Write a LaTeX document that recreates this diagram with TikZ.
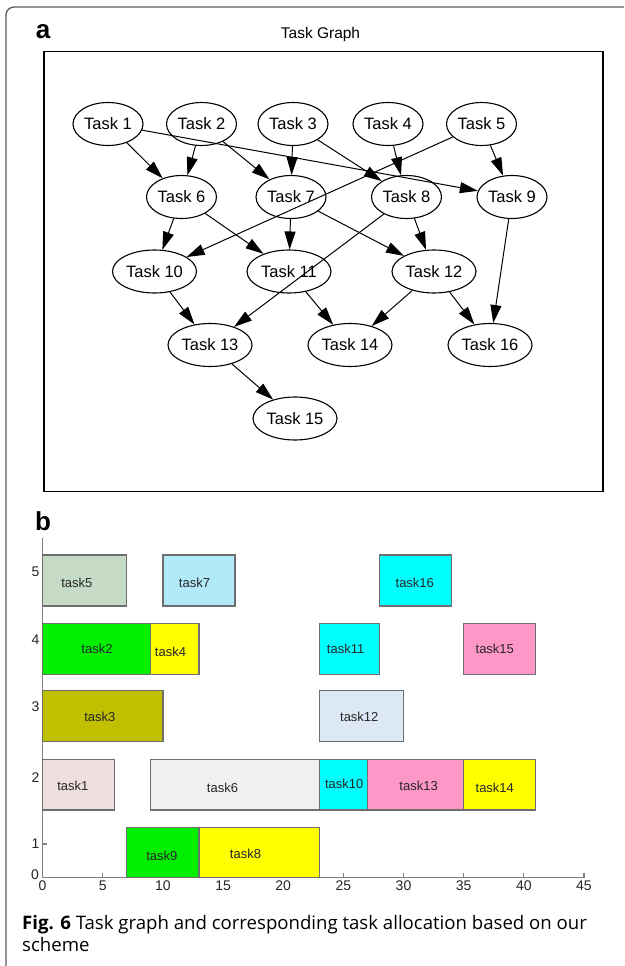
\documentclass[tikz,border=0pt]{standalone}
\usepackage{fontspec}
\setmainfont{Liberation Sans}
\newfontfamily\capfont{Open Sans}
\usetikzlibrary{arrows.meta,shapes.geometric}
\definecolor{c5}{RGB}{198,219,198}
\definecolor{c7}{RGB}{178,234,250}
\definecolor{cgreen}{RGB}{0,238,0}
\definecolor{cyel}{RGB}{255,255,0}
\definecolor{ccyan}{RGB}{0,255,255}
\definecolor{cpink}{RGB}{255,150,200}
\definecolor{colive}{RGB}{192,192,0}
\definecolor{c12}{RGB}{221,232,247}
\definecolor{c1}{RGB}{238,222,222}
\definecolor{c6}{RGB}{240,240,240}
\definecolor{barline}{RGB}{110,110,110}
\definecolor{axisc}{RGB}{128,128,128}
\definecolor{framec}{RGB}{90,90,90}
\begin{document}
\begin{tikzpicture}[x=1pt,y=-1pt,
  task/.style={draw, ellipse, line width=1.1pt, inner sep=0pt, minimum height=43pt, minimum width=70pt, font=\fontsize{16.5}{18}\selectfont},
  widetask/.style={minimum width=84pt},
  tedge/.style={-{Triangle[length=18pt,width=11pt]}, line width=1pt},
  gbar/.style={draw=barline, line width=1.2pt},
  bartext/.style={font=\fontsize{13}{15}\selectfont, text=black!85, inner sep=0pt},
  ticklab/.style={font=\fontsize{14}{16}\selectfont, text=black!85, inner sep=0pt},
  panel/.style={font=\fontsize{26}{26}\selectfont\bfseries, inner sep=0pt, anchor=base}
]
\useasboundingbox (0,0) rectangle (624,966);
\fill[white] (0,0) rectangle (624,966);
% outer frame
\draw[framec, line width=1.3pt, rounded corners=8pt] (6,966) -- (6,7) -- (624,7);

% panel a
\node[panel] (la) at (43,38.5) {a};
\node[font=\fontsize{15.5}{17}\selectfont, inner sep=0pt, anchor=base] (title) at (320.5,38) {Task Graph};
\draw[line width=1.4pt] (43.8,51.7) rectangle (603,491.7);

\node[task] (t1) at (108,124) {Task 1};
\node[task] (t2) at (201.5,124) {Task 2};
\node[task] (t3) at (293,124) {Task 3};
\node[task] (t4) at (388,124) {Task 4};
\node[task] (t5) at (481.5,124) {Task 5};
\node[task] (t6) at (181.5,197) {Task 6};
\node[task] (t7) at (291,197) {Task 7};
\node[task] (t8) at (406.5,197) {Task 8};
\node[task] (t9) at (512,197) {Task 9};
\node[task,widetask] (t10) at (154.5,271.5) {Task 10};
\node[task,widetask] (t11) at (289,271.5) {Task 11};
\node[task,widetask] (t12) at (434,271.5) {Task 12};
\node[task,widetask] (t13) at (210,345) {Task 13};
\node[task,widetask] (t14) at (350,345) {Task 14};
\node[task,widetask] (t16) at (490,345) {Task 16};
\node[task,widetask] (t15) at (295,418.5) {Task 15};

\draw[tedge] (t1) -- (t6);
\draw[tedge] (t1) -- (t9);
\draw[tedge] (t2) -- (t6);
\draw[tedge] (t2) -- (t7);
\draw[tedge] (t3) -- (t7);
\draw[tedge] (t3) -- (t8);
\draw[tedge] (t4) -- (t8);
\draw[tedge] (t5) -- (t9);
\draw[tedge] (t5) -- (t10);
\draw[tedge] (t6) -- (t10);
\draw[tedge] (t6) -- (t11);
\draw[tedge] (t7) -- (t11);
\draw[tedge] (t7) -- (t12);
\draw[tedge] (t8) -- (t12);
\draw[tedge] (t8) -- (t13);
\draw[tedge] (t9) -- (t16);
\draw[tedge] (t10) -- (t13);
\draw[tedge] (t11) -- (t14);
\draw[tedge] (t12) -- (t14);
\draw[tedge] (t12) -- (t16);
\draw[tedge] (t13) -- (t15);

% panel b
\node[panel] (lb) at (43,530) {b};
\begin{scope}[xshift=42.6pt, x=12.03pt]
  \draw[axisc, line width=1.2pt] (0,538) -- (0,877.7) -- (45,877.7);
  \foreach \u in {5,10,...,45} \draw[axisc, line width=1.2pt] (\u,877.7) -- (\u,872.5);
  \draw[axisc, line width=1.2pt] (0,844) -- (0.35,844);
  % row 5
  \draw[gbar, fill=c5] (0,555) rectangle (7,606);
  \draw[gbar, fill=c7] (10,555) rectangle (16,606);
  \draw[gbar, fill=ccyan] (28,555) rectangle (34,606);
  % row 4
  \draw[gbar, fill=cgreen] (0,623.3) rectangle (9,674.3);
  \draw[gbar, fill=cyel] (9,623.3) rectangle (13,674.3);
  \draw[gbar, fill=ccyan] (23,623.3) rectangle (28,674.3);
  \draw[gbar, fill=cpink] (35,623.3) rectangle (41,674.3);
  % row 3
  \draw[gbar, fill=colive] (0,690.7) rectangle (10,741.7);
  \draw[gbar, fill=c12] (23,690.7) rectangle (30,741.7);
  % row 2
  \draw[gbar, fill=c1] (0,759.3) rectangle (6,810);
  \draw[gbar, fill=c6] (9,759.3) rectangle (23,810);
  \draw[gbar, fill=ccyan] (23,759.3) rectangle (27,810);
  \draw[gbar, fill=cpink] (27,759.3) rectangle (35,810);
  \draw[gbar, fill=cyel] (35,759.3) rectangle (41,810);
  % row 1
  \draw[gbar, fill=cgreen] (7,827.7) rectangle (13,877.7);
  \draw[gbar, fill=cyel] (13,827.7) rectangle (23,877.7);
  \foreach \u in {0,5,...,45} \node[ticklab] (xl\u) at (\u,886) {\u};
\end{scope}

\node[bartext] (b5) at (76.8,583) {task5};
\node[bartext] (b7) at (194.5,583) {task7};
\node[bartext] (b16) at (414.8,583) {task16};
\node[bartext] (b2) at (97,649) {task2};
\node[bartext] (b4) at (170.5,652) {task4};
\node[bartext] (b11) at (345.6,649) {task11};
\node[bartext] (b15) at (494.8,649) {task15};
\node[bartext] (b3) at (99.9,717) {task3};
\node[bartext] (b12) at (359.3,717) {task12};
\node[bartext] (b1) at (72.8,785.5) {task1};
\node[bartext] (b6) at (222.5,788) {task6};
\node[bartext] (b10) at (344.2,784) {task10};
\node[bartext] (b13) at (418.6,786) {task13};
\node[bartext] (b14) at (494.8,787.7) {task14};
\node[bartext] (b9) at (161.8,855.5) {task9};
\node[bartext] (b8) at (245.5,854) {task8};

\node[ticklab] (y5) at (35.5,572) {5};
\node[ticklab] (y4) at (35.5,640) {4};
\node[ticklab] (y3) at (35.5,706.7) {3};
\node[ticklab] (y2) at (35.5,777.5) {2};
\node[ticklab] (y1) at (35.5,844) {1};
\node[ticklab] (y0) at (35,875) {0};

% caption
\node[font=\capfont\fontsize{18.6}{20}\selectfont, inner sep=0pt, anchor=base west] (cap1) at (22,929) {\textbf{Fig. 6} Task graph and corresponding task allocation based on our};
\node[font=\capfont\fontsize{18.6}{20}\selectfont, inner sep=0pt, anchor=base west] (cap2) at (22,951) {scheme};
\end{tikzpicture}
\end{document}
